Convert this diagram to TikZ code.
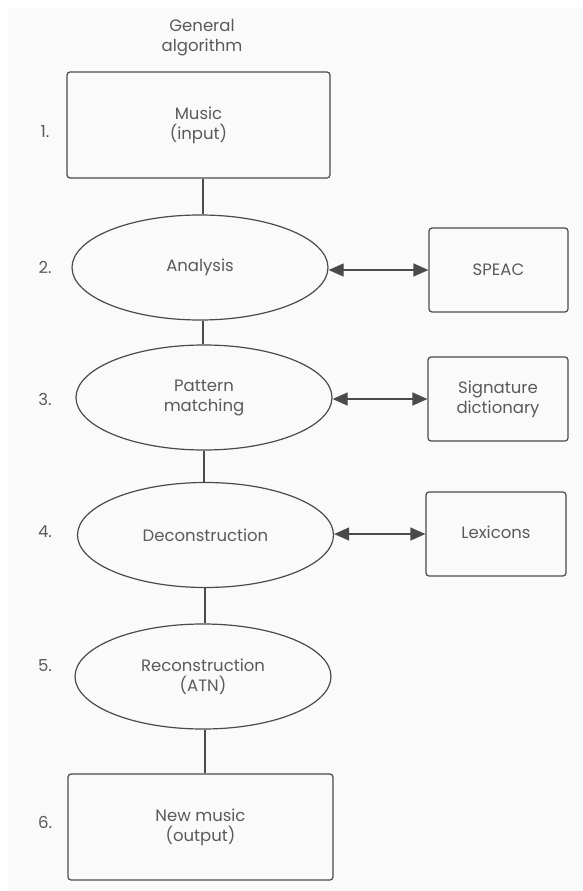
\documentclass[tikz,border=0pt]{standalone}
\usepackage{fontspec}
\setmainfont{Poppins}
\usetikzlibrary{shapes.geometric,arrows.meta}
\definecolor{ink}{HTML}{4A4A4A}
\definecolor{txt}{HTML}{5A5A5A}
\definecolor{paper}{HTML}{F9FAF9}
\tikzset{
  base/.style={draw=ink, line width=1.2pt, text=txt, align=center, font=\fontsize{16.5}{20}\selectfont, inner sep=0pt},
  rbox/.style={base, rectangle, rounded corners=3pt},
  ellip/.style={base, ellipse, minimum width=256pt, minimum height=105pt},
  num/.style={text=txt, font=\fontsize{16.5}{20}\selectfont, inner sep=0pt},
  link/.style={draw=ink, line width=1.2pt},
  dlink/.style={link, {Triangle[length=15pt,width=13pt]}-{Triangle[length=15pt,width=13pt]}},
}
\begin{document}
\begin{tikzpicture}[x=1pt,y=-1pt]
\useasboundingbox (0,0) rectangle (582,891);
\fill[paper] (8,8) rectangle (582,891);
\node[num, align=center] (title) at (202,38) {General\\algorithm};
% main column
\node[rbox, minimum width=263pt, minimum height=106pt] (b1) at (198.5,125) {Music\\(input)};
\node[ellip] (e2) at (200,267.5) {Analysis};
\node[ellip] (e3) at (204,397.5) {Pattern\\matching};
\node[ellip] (e4) at (205.5,535) {Deconstruction};
\node[ellip] (e5) at (203,676.5) {Reconstruction\\(ATN)};
\node[rbox, minimum width=265pt, minimum height=106pt] (b6) at (200.5,827) {New music\\(output)};
% side boxes
\node[rbox, minimum width=139pt, minimum height=84pt] (s1) at (498.5,270) {SPEAC};
\node[rbox, minimum width=140pt, minimum height=84pt] (s2) at (498,399) {Signature\\dictionary};
\node[rbox, minimum width=140pt, minimum height=84pt] (s3) at (496,534) {\raisebox{4pt}{Lexicons}};
% numbers
\node[num] (n1) at (45,132) {1.};
\node[num] (n2) at (45,267) {2.};
\node[num] (n3) at (45,399) {3.};
\node[num] (n4) at (45,532) {4.};
\node[num] (n5) at (45,666) {5.};
\node[num] (n6) at (45,822) {6.};
% connectors
\draw[link] (b1.south -| 203,0) -- (e2.north -| 203,0);
\draw[link] (e2.south -| 203,0) -- (e3.north -| 203,0);
\draw[link] (e3.south -| 204,0) -- (e4.north -| 204,0);
\draw[link] (e4.south -| 205,0) -- (e5.north -| 205,0);
\draw[link] (e5.south -| 205,0) -- (b6.north -| 205,0);
\draw[dlink] (s1.west -| e2.east) -- (s1.west);
\draw[dlink] (s2.west -| e3.east) -- (s2.west);
\draw[dlink] (s3.west -| e4.east) -- (s3.west);
\end{tikzpicture}
\end{document}
